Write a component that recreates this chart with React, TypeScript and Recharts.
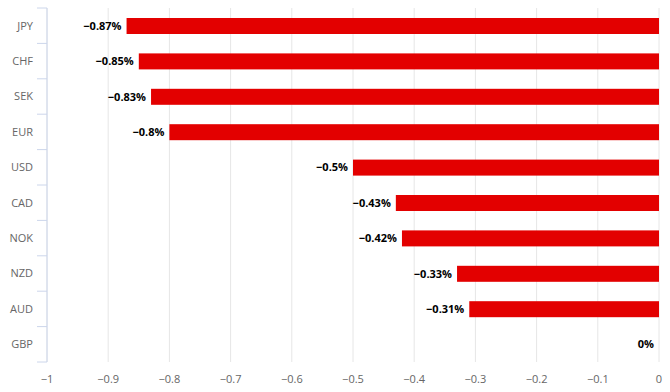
import React from "react";
import { BarChart, Bar, XAxis, YAxis, CartesianGrid } from "recharts";

const currencies = ["JPY", "CHF", "SEK", "EUR", "USD", "CAD", "NOK", "NZD", "AUD", "GBP"];
const changes = [-0.87, -0.85, -0.83, -0.8, -0.5, -0.43, -0.42, -0.33, -0.31, 0];
const xTicks = [-1, -0.9, -0.8, -0.7, -0.6, -0.5, -0.4, -0.3, -0.2, -0.1, 0];

const data = currencies.map((c, i) => ({ currency: c, value: changes[i] }));

const W = 670;
const H = 392;
const M = { top: 8, right: 11, left: 0, bottom: 0 };
const X_AXIS_H = 30;
const Y_AXIS_W = 47;
const plotH = H - M.top - M.bottom - X_AXIS_H;
const band = plotH / currencies.length;

const FONT = "'Open Sans', sans-serif";
const minus = (s: string) => s.replace("-", "\u2212");

const YTick = (props: any) => {
  const { x, y, payload, index } = props;
  const half = band / 2;
  return (
    <g>
      <text x={x - 14} y={y} dy="0.35em" textAnchor="end" fill="#666666" fontSize={11} fontFamily={FONT}>
        {payload.value}
      </text>
      <line x1={x - 10} x2={x} y1={y - half} y2={y - half} stroke="#ccd6eb" />
      {index === currencies.length - 1 && (
        <line x1={x - 10} x2={x} y1={y + half} y2={y + half} stroke="#ccd6eb" />
      )}
    </g>
  );
};

const BarShape = (props: any) => {
  const { x, y, width, height, fill, payload } = props;
  const left = Math.min(x, x + width);
  const w = Math.abs(width);
  const value = payload ? payload.value : props.value;
  return (
    <g>
      {w > 0 && <rect x={left} y={y} width={w} height={height} fill={fill} />}
      <text
        x={left - 5}
        y={y + height / 2}
        dy="0.35em"
        textAnchor="end"
        fill="#000000"
        fontSize={11}
        fontWeight="bold"
        fontFamily={FONT}
      >
        {minus(String(value)) + "%"}
      </text>
    </g>
  );
};

export default function App() {
  return (
    <div style={{ position: "absolute", left: 0, top: 0, width: W, height: H, background: "#fff" }}>
      <BarChart width={W} height={H} data={data} layout="vertical" margin={M} barSize={16}>
        <CartesianGrid horizontal={false} stroke="#e6e6e6" />
        <XAxis
          type="number"
          domain={[-1, 0]}
          ticks={xTicks}
          height={X_AXIS_H}
          axisLine={false}
          tickLine={false}
          tickMargin={7}
          tick={{ fill: "#666666", fontSize: 11, fontFamily: FONT }}
          tickFormatter={(v: number) => minus(String(v))}
          interval={0}
        />
        <YAxis
          type="category"
          dataKey="currency"
          width={Y_AXIS_W}
          axisLine={{ stroke: "#ccd6eb" }}
          tickLine={false}
          tickSize={0}
          tickMargin={0}
          tick={<YTick />}
          interval={0}
        />
        <Bar dataKey="value" fill="#e30000" isAnimationActive={false} shape={<BarShape />} />
      </BarChart>
    </div>
  );
}
